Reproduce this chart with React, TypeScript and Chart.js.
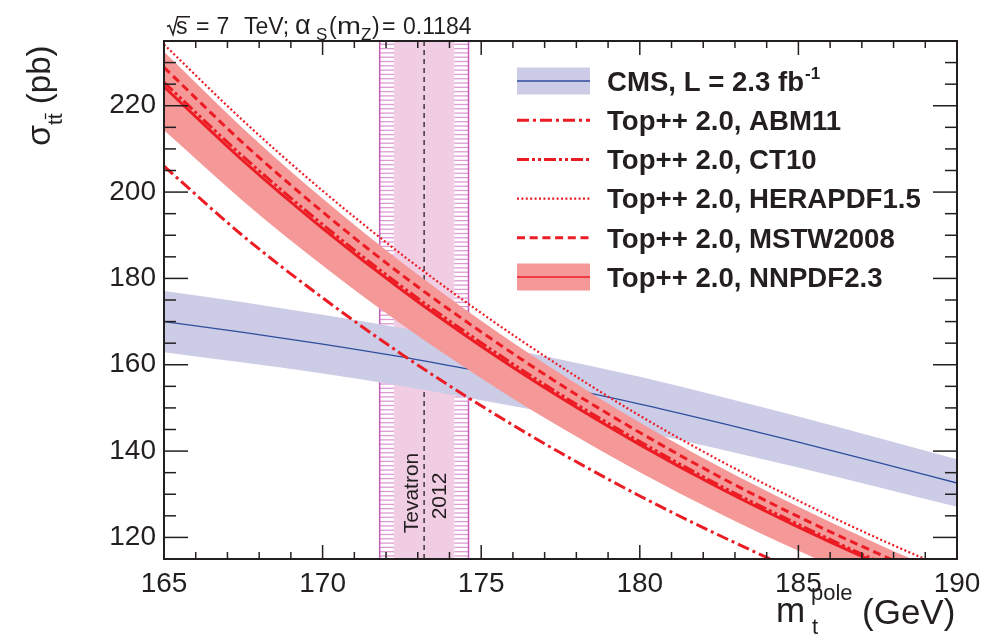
import React, { useEffect, useRef } from "react";
import { Chart, registerables } from "chart.js";

Chart.register(...registerables);

const FONT = "'Liberation Sans', Arial, Helvetica, sans-serif";
const INK = "#231f20";
const RED = "#ec1c24";
const BAND_RED = "#f59898";
const LAVENDER = "#ccccE6";
const CMS_BLUE = "#2e4d9e";

// top-quark pole mass (GeV)
const massPoints = [165, 167.5, 170, 172.5, 175, 177.5, 180, 182.5, 185, 187.5, 190];
// CMS measured cross section (pb) vs assumed mass
const cmsCentral = [170.0, 167.5, 164.8, 161.8, 158.4, 154.8, 150.9, 146.6, 142.1, 137.4, 132.6];
const cmsUpper = [177.1, 174.5, 171.6, 168.5, 165.0, 161.2, 157.2, 152.7, 148.0, 143.1, 138.1];
const cmsLower = [162.9, 160.5, 158.0, 155.1, 151.8, 148.4, 144.6, 140.5, 136.2, 131.7, 127.1];
// Top++ 2.0 predictions (pb)
const nnpdfCentral = [224.4, 207.2, 191.6, 177.3, 164.3, 152.4, 141.5, 131.5, 122.4, 114.0, 106.3];
const nnpdfUpper = [232.5, 214.7, 198.5, 183.7, 170.2, 157.9, 146.6, 136.4, 127.1, 118.5, 110.5];
const nnpdfLower = [214.3, 197.9, 183.0, 169.3, 156.9, 145.5, 135.1, 125.6, 116.9, 108.9, 101.5];
const abm11 = [206.0, 189.8, 175.5, 162.4, 150.5, 139.6, 129.6, 120.5, 112.1, 104.4, 97.4];
const ct10 = [225.4, 208.2, 192.5, 178.1, 165.1, 153.1, 142.2, 132.1, 123.0, 114.5, 106.8];
const herapdf = [234.2, 216.5, 200.3, 185.5, 172.0, 159.6, 148.2, 137.9, 128.5, 119.8, 111.8];
const mstw = [228.9, 211.3, 195.4, 180.8, 167.6, 155.4, 144.3, 134.1, 124.8, 116.3, 108.4];

// Tevatron 2012 mass combination (GeV)
const tevatronCentral = 173.2;
const tevatronInner = [172.25, 174.15];
const tevatronOuter = [171.8, 174.6];

const xTicks = [165, 170, 175, 180, 185, 190];
const yTicks = [120, 140, 160, 180, 200, 220];
const xRange = [165, 190];
const yRange = [115, 235];

const legendLabels = [
  "CMS, L = 2.3 fb",
  "Top++ 2.0, ABM11",
  "Top++ 2.0, CT10",
  "Top++ 2.0, HERAPDF1.5",
  "Top++ 2.0, MSTW2008",
  "Top++ 2.0, NNPDF2.3",
];

const DASH_ABM = [12, 4, 3, 4];
const DASH_CT10 = [12, 3, 3, 3, 3, 3];
const DASH_HERA = [2, 2.4];
const DASH_MSTW = [8, 4.7];

const pts = (ys: number[]) => massPoints.map((x, i) => ({ x, y: ys[i] }));

function line(ctx: CanvasRenderingContext2D, x1: number, y1: number, x2: number, y2: number) {
  ctx.beginPath();
  ctx.moveTo(x1, y1);
  ctx.lineTo(x2, y2);
  ctx.stroke();
}

const decor = {
  id: "decor",
  beforeDatasetsDraw(chart: any) {
    const { ctx, chartArea: a, scales } = chart;
    const x = scales.x;
    const xo1 = x.getPixelForValue(tevatronOuter[0]);
    const xo2 = x.getPixelForValue(tevatronOuter[1]);
    const xi1 = x.getPixelForValue(tevatronInner[0]);
    const xi2 = x.getPixelForValue(tevatronInner[1]);
    const xc = x.getPixelForValue(tevatronCentral);
    ctx.save();
    ctx.fillStyle = "#f0cde2";
    ctx.fillRect(xi1, a.top, xi2 - xi1, a.bottom - a.top);
    ctx.strokeStyle = "#dc9ad3";
    ctx.lineWidth = 1.3;
    for (let py = a.bottom - 3; py > a.top + 1; py -= 4.3) {
      line(ctx, xo1, py, xi1, py);
      line(ctx, xi2, py, xo2, py);
    }
    ctx.strokeStyle = "#c75cb8";
    ctx.lineWidth = 1.5;
    line(ctx, xo1, a.top, xo1, a.bottom);
    line(ctx, xo2, a.top, xo2, a.bottom);
    ctx.strokeStyle = INK;
    ctx.lineWidth = 1.3;
    ctx.setLineDash([5, 4]);
    line(ctx, xc, a.top, xc, a.bottom);
    ctx.setLineDash([]);
    // label
    ctx.fillStyle = INK;
    ctx.font = `21px ${FONT}`;
    ctx.textAlign = "center";
    ctx.textBaseline = "middle";
    ctx.save();
    ctx.translate(412, 493);
    ctx.rotate(-Math.PI / 2);
    ctx.fillText("Tevatron", 0, 0);
    ctx.restore();
    ctx.save();
    ctx.translate(440, 496);
    ctx.rotate(-Math.PI / 2);
    ctx.fillText("2012", 0, 0);
    ctx.restore();
    ctx.restore();
  },
  afterDatasetsDraw(chart: any) {
    const { ctx, chartArea: a, scales } = chart;
    const x = scales.x;
    const y = scales.y;
    ctx.save();
    ctx.strokeStyle = INK;
    ctx.lineWidth = 1.5;
    for (let v = yRange[0] + 5; v < yRange[1]; v += 5) {
      const py = y.getPixelForValue(v);
      const L = yTicks.includes(v) ? 24 : 12;
      line(ctx, a.left, py, a.left + L, py);
      line(ctx, a.right, py, a.right - L, py);
    }
    for (let v = xRange[0] + 1; v < xRange[1]; v += 1) {
      const px = x.getPixelForValue(v);
      const L = xTicks.includes(v) ? 14 : 7;
      line(ctx, px, a.bottom, px, a.bottom - L);
      line(ctx, px, a.top, px, a.top + L);
    }
    ctx.lineWidth = 2;
    ctx.strokeRect(a.left, a.top, a.right - a.left, a.bottom - a.top);
    ctx.restore();
  },
  afterDraw(chart: any) {
    const { ctx } = chart;
    ctx.save();
    ctx.fillStyle = INK;
    ctx.strokeStyle = INK;
    ctx.textAlign = "left";
    ctx.textBaseline = "alphabetic";

    // ---- legend ----
    const x0 = 517;
    const x1 = 590;
    for (let i = 0; i < legendLabels.length; i++) {
      const base = 90.8 + 39.2 * i;
      const c = base - 9.8;
      ctx.save();
      if (i === 0) {
        ctx.fillStyle = LAVENDER;
        ctx.fillRect(x0, c - 13.5, x1 - x0, 27);
        ctx.strokeStyle = CMS_BLUE;
        ctx.lineWidth = 1.3;
        line(ctx, x0, c, x1, c);
      } else if (i === 5) {
        ctx.fillStyle = BAND_RED;
        ctx.fillRect(x0, c - 13.5, x1 - x0, 27);
        ctx.strokeStyle = RED;
        ctx.lineWidth = 1.5;
        line(ctx, x0, c, x1, c);
      } else {
        ctx.strokeStyle = RED;
        const dashes = [DASH_ABM, DASH_CT10, DASH_HERA, DASH_MSTW][i - 1];
        ctx.lineWidth = i === 3 ? 2.2 : 3;
        ctx.setLineDash(dashes);
        line(ctx, x0, c, x1, c);
      }
      ctx.restore();
      ctx.font = `bold 27.6px ${FONT}`;
      ctx.fillText(legendLabels[i], 607, base);
      if (i === 0) {
        const w = ctx.measureText(legendLabels[i]).width;
        ctx.font = `bold 17px ${FONT}`;
        ctx.fillText("-1", 607 + w + 1, base - 12);
      }
    }

    // ---- top text ----
    ctx.lineWidth = 1.5;
    ctx.beginPath();
    ctx.moveTo(167, 26.5);
    ctx.lineTo(169.5, 25.5);
    ctx.lineTo(173, 34.5);
    ctx.lineTo(177.5, 16.8);
    ctx.lineTo(190, 16.8);
    ctx.stroke();
    const B = 34.3;
    ctx.font = `23px ${FONT}`;
    ctx.fillText("s", 176, B);
    ctx.fillText("=", 196, B);
    ctx.fillText("7", 216.5, B);
    ctx.fillText("TeV;", 244, B);
    ctx.font = `27px ${FONT}`;
    ctx.fillText("\u03b1", 295, B);
    ctx.font = `17px ${FONT}`;
    ctx.fillText("S", 316, 40);
    ctx.font = `23px ${FONT}`;
    ctx.fillText("(", 329, B);
    ctx.save();
    ctx.translate(337, B);
    ctx.scale(1.25, 1);
    ctx.fillText("m", 0, 0);
    ctx.restore();
    ctx.font = `17px ${FONT}`;
    ctx.fillText("Z", 361, 40);
    ctx.font = `23px ${FONT}`;
    ctx.fillText(")", 372, B);
    ctx.fillText("=", 382, B);
    ctx.fillText("0.1184", 403, B);

    // ---- y title ----
    ctx.save();
    ctx.translate(50, 146);
    ctx.rotate(-Math.PI / 2);
    ctx.font = `34px ${FONT}`;
    ctx.fillText("\u03c3", 0, 0);
    let adv = ctx.measureText("\u03c3").width;
    ctx.font = `21px ${FONT}`;
    ctx.fillText("tt", adv, 12);
    const tw = ctx.measureText("t").width;
    ctx.lineWidth = 1.3;
    line(ctx, adv + tw, -4.5, adv + 2 * tw, -4.5);
    adv += 2 * tw;
    ctx.font = `33px ${FONT}`;
    ctx.fillText(" (pb)", adv, 0);
    ctx.restore();

    // ---- x title ----
    ctx.font = `35px ${FONT}`;
    ctx.fillText("m", 776, 622);
    ctx.font = `22px ${FONT}`;
    ctx.fillText("t", 812, 634);
    ctx.fillText("pole", 811, 600);
    ctx.font = `35px ${FONT}`;
    ctx.fillText("(GeV)", 862, 624);
    ctx.restore();
  },
};

export default function App() {
  const ref = useRef<HTMLCanvasElement>(null);
  useEffect(() => {
    const common = {
      pointRadius: 0,
      pointHoverRadius: 0,
      cubicInterpolationMode: "monotone",
      clip: 0,
      fill: false,
    };
    const hidden = { borderColor: "rgba(0,0,0,0)", borderWidth: 0 };
    const chart = new Chart(ref.current as HTMLCanvasElement, {
      type: "line",
      data: {
        datasets: [
          { ...common, ...hidden, label: "cmsLower", data: pts(cmsLower), order: 10 },
          { ...common, ...hidden, label: "cmsUpper", data: pts(cmsUpper), fill: "-1", backgroundColor: LAVENDER, order: 9 },
          { ...common, label: "CMS", data: pts(cmsCentral), borderColor: CMS_BLUE, borderWidth: 1.3, order: 8 },
          { ...common, ...hidden, label: "nnLower", data: pts(nnpdfLower), order: 7 },
          { ...common, ...hidden, label: "nnUpper", data: pts(nnpdfUpper), fill: "-1", backgroundColor: BAND_RED, order: 6 },
          { ...common, label: "ABM11", data: pts(abm11), borderColor: RED, borderWidth: 3, borderDash: DASH_ABM, order: 5 },
          { ...common, label: "CT10", data: pts(ct10), borderColor: RED, borderWidth: 3, borderDash: DASH_CT10, order: 4 },
          { ...common, label: "HERAPDF1.5", data: pts(herapdf), borderColor: RED, borderWidth: 2.2, borderDash: DASH_HERA, order: 3 },
          { ...common, label: "MSTW2008", data: pts(mstw), borderColor: RED, borderWidth: 3, borderDash: DASH_MSTW, order: 2 },
          { ...common, label: "NNPDF2.3", data: pts(nnpdfCentral), borderColor: RED, borderWidth: 3, order: 1 },
        ] as any,
      },
      options: {
        responsive: false,
        devicePixelRatio: 1,
        animation: false,
        events: [],
        layout: { padding: { left: 0, top: 41, right: 43, bottom: 0 } },
        plugins: { legend: { display: false }, tooltip: { enabled: false } },
        scales: {
          x: {
            type: "linear",
            min: xRange[0],
            max: xRange[1],
            afterBuildTicks: (s: any) => {
              s.ticks = xTicks.map((v) => ({ value: v }));
            },
            afterFit: (s: any) => {
              s.height = 76;
            },
            grid: { display: false, drawTicks: false },
            border: { display: false },
            ticks: {
              font: { family: FONT, size: 28 },
              color: INK,
              padding: 8,
              maxRotation: 0,
              minRotation: 0,
              autoSkip: false,
              callback: (v: any) => String(v),
            },
          },
          y: {
            type: "linear",
            min: yRange[0],
            max: yRange[1],
            afterBuildTicks: (s: any) => {
              s.ticks = yTicks.map((v) => ({ value: v }));
            },
            afterFit: (s: any) => {
              s.width = 164;
            },
            grid: { display: false, drawTicks: false },
            border: { display: false },
            ticks: {
              font: { family: FONT, size: 28 },
              color: INK,
              padding: 8,
              autoSkip: false,
              callback: (v: any) => String(v),
            },
          },
        },
      } as any,
      plugins: [decor],
    });
    return () => chart.destroy();
  }, []);
  return (
    <div style={{ position: "fixed", left: 0, top: 0, width: 1000, height: 635, background: "#fff" }}>
      <canvas ref={ref} width={1000} height={635} style={{ width: 1000, height: 635, display: "block" }} />
    </div>
  );
}
